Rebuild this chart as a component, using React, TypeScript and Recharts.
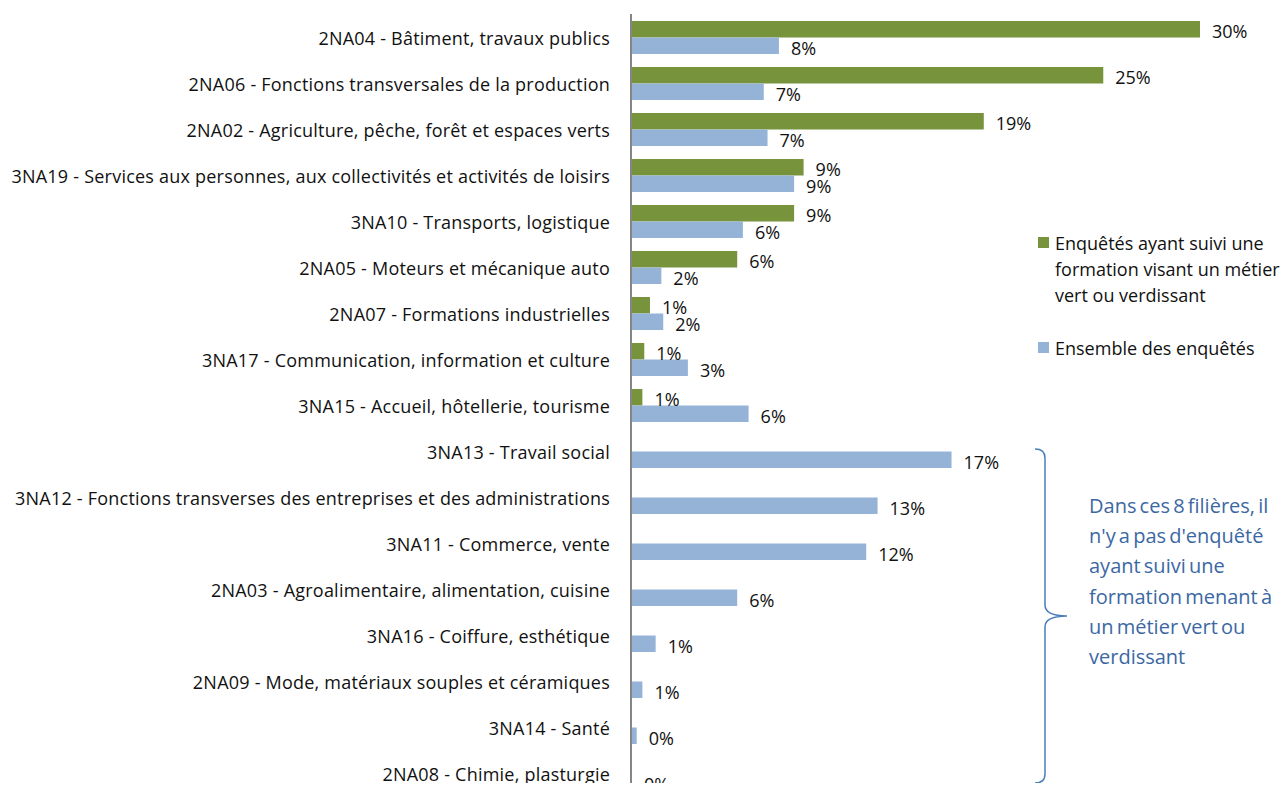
import { Bar, BarChart, LabelList, XAxis, YAxis } from "recharts";

const categories = [
    "2NA04 - Bâtiment, travaux publics",
    "2NA06 - Fonctions transversales de la production",
    "2NA02 - Agriculture, pêche, forêt et espaces verts",
    "3NA19 - Services aux personnes, aux collectivités et activités de loisirs",
    "3NA10 - Transports, logistique",
    "2NA05 - Moteurs et mécanique auto",
    "2NA07 - Formations industrielles",
    "3NA17 - Communication,  information  et culture",
    "3NA15 - Accueil, hôtellerie, tourisme",
    "3NA13 - Travail social",
    "3NA12 - Fonctions transverses des entreprises et des administrations",
    "3NA11 - Commerce, vente",
    "2NA03 - Agroalimentaire, alimentation,  cuisine",
    "3NA16 - Coiffure, esthétique",
    "2NA09 - Mode, matériaux souples et céramiques",
    "3NA14 - Santé",
    "2NA08 - Chimie, plasturgie",
];

// % des enquêtés ayant suivi une formation visant un métier vert ou verdissant
const vertValues = [30.0, 24.9, 18.6, 9.1, 8.6, 5.6, 1.0, 0.7, 0.6, null, null, null, null, null, null, null, null];
// % de l'ensemble des enquêtés
const ensembleValues = [7.8, 7.0, 7.2, 8.6, 5.9, 1.6, 1.7, 3.0, 6.2, 16.9, 13.0, 12.4, 5.6, 1.3, 0.6, 0.3, 0.05];

const noteLines = [
    "Dans ces 8 filières, il",
    "n'y a pas d'enquêté",
    "ayant suivi une",
    "formation menant à",
    "un métier vert ou",
    "verdissant",
];

const data = categories.map((name, i) => ({
    name,
    vert: vertValues[i],
    ensemble: ensembleValues[i],
}));

const FONT = "'Open Sans', sans-serif";

const PctLabel = (props: any) => {
    const { x, y, width, height, value } = props;
    if (value === null || value === undefined) return null;
    return (
        <text
            x={x + width + 12}
            y={y + height / 2 + 4}
            fontSize={18}
            fontFamily={FONT}
            fill="#111"
            dominantBaseline="middle"
        >
            {Math.round(value)}%
        </text>
    );
};

export default function App() {
    return (
        <div style={{ position: "relative", width: 1280, height: 783, marginBottom: -8, overflow: "hidden" }}>
            <BarChart
                width={1280}
                height={800}
                data={data}
                layout="vertical"
                margin={{ top: 6, right: 88, bottom: 12, left: 0 }}
                barGap={0}
                barSize={16.5}
            >
                <XAxis type="number" domain={[0, 30]} hide />
                <YAxis
                    type="category"
                    dataKey="name"
                    width={623}
                    interval={0}
                    axisLine={{ stroke: "#868686", strokeWidth: 2 }}
                    tickLine={false}
                    tickSize={6}
                    tickMargin={15}
                    tick={{ fontSize: 18, fill: "#111", fontFamily: FONT, letterSpacing: 0.22, dy: 2 }}
                />
                <Bar dataKey="vert" fill="#77933c" isAnimationActive={false}>
                    <LabelList dataKey="vert" content={PctLabel} />
                </Bar>
                <Bar dataKey="ensemble" fill="#95b3d7" isAnimationActive={false}>
                    <LabelList dataKey="ensemble" content={PctLabel} />
                </Bar>
            </BarChart>

            {/* legende */}
            <div style={{ position: "absolute", left: 1030, top: 222, fontFamily: FONT, fontSize: 18, color: "#111", lineHeight: "26px", whiteSpace: "nowrap" }}>
                <div style={{ display: "flex" }}>
                    <div style={{ width: 11, height: 11, background: "#77933c", marginTop: 7, marginRight: 6, flexShrink: 0 }} />
                    <div>Enquêtés ayant suivi une<br />formation visant un métier<br />vert ou verdissant</div>
                </div>
                <div style={{ display: "flex", marginTop: 27 }}>
                    <div style={{ width: 11, height: 11, background: "#95b3d7", marginTop: 7, marginRight: 6, flexShrink: 0 }} />
                    <div>Ensemble des enquêtés</div>
                </div>
            </div>

            {/* accolade + note */}
            <svg style={{ position: "absolute", left: -8, top: -8, pointerEvents: "none" }} width={1288} height={800}>
                <path
                    d="M1035,449 Q1045,449 1045,458 L1045,605 Q1045,616 1067,616 Q1045,616 1045,627 L1045,774 Q1045,783 1035,783"
                    fill="none"
                    stroke="#4a7ebb"
                    strokeWidth={1.5}
                />
            </svg>
            <div style={{ position: "absolute", left: 1081, top: 483, fontFamily: FONT, fontSize: 20, color: "#3b68a3", lineHeight: "30.2px", wordSpacing: -2 }}>
                {noteLines.map((l) => (
                    <div key={l} style={{ whiteSpace: "nowrap" }}>{l}</div>
                ))}
            </div>
        </div>
    );
}
